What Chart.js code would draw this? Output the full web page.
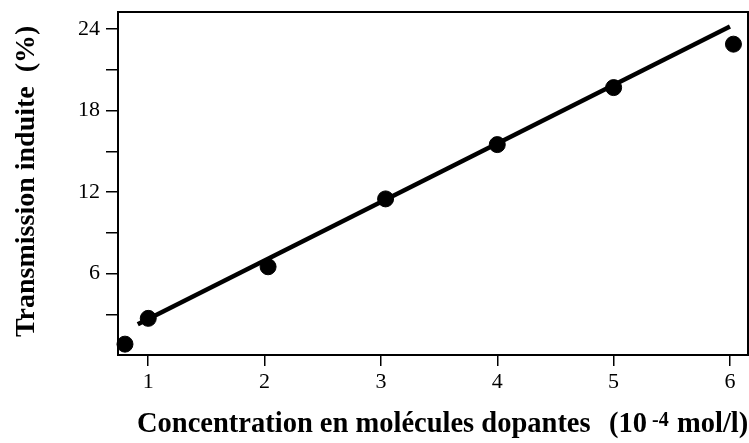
<!DOCTYPE html>
<html>
<head>
<meta charset="utf-8">
<script src="https://cdn.jsdelivr.net/npm/chart.js@4"></script>
<style>
  html, body { margin: 0; padding: 0; background: #fff; }
  #wrap { width: 749px; height: 443px; }
</style>
</head>
<body>
<div id="wrap"><canvas id="myChart" width="749" height="443"></canvas></div>
<script>
// valeurs
const concentration = [0.80, 1.00, 2.03, 3.04, 4.00, 5.00, 6.03];
const transmission = [0.8, 2.7, 6.5, 11.5, 15.5, 19.7, 22.9];
// droite d'ajustement (extrémités)
const fitX = [0.91, 6.00];
const fitY = [2.26, 24.2];
const xTicks = [1, 2, 3, 4, 5, 6];
const yTicks = [3, 6, 9, 12, 15, 18, 21, 24];
const yLabels = ['6', '12', '18', '24'];

const serif = '"Liberation Serif", "Times New Roman", serif';

// cadre + titres des axes (avec l'exposant -4)
const frameAndTitles = {
  id: 'frameAndTitles',
  afterDraw(chart) {
    const { ctx, chartArea: a } = chart;
    ctx.save();
    ctx.strokeStyle = '#000';
    ctx.lineWidth = 2;
    ctx.strokeRect(a.left, a.top, a.right - a.left, a.bottom - a.top);

    ctx.fillStyle = '#000';
    ctx.textBaseline = 'alphabetic';
    ctx.textAlign = 'left';

    // titre x
    const base = 432;
    ctx.font = 'bold 28.5px ' + serif;
    ctx.fillText('Concentration en molécules dopantes', 137, base);
    ctx.fillText('(10', 609, base);
    ctx.fillText('mol/l)', 677, base);
    ctx.font = 'bold 20px ' + serif;
    ctx.fillText('-4', 652, base - 6);

    // titre y
    ctx.translate(34, 337);
    ctx.rotate(-Math.PI / 2);
    ctx.font = 'bold 28px ' + serif;
    ctx.fillText('Transmission induite  (%)', 0, 0);
    ctx.restore();
  }
};

const points = concentration.map((c, i) => ({ x: c, y: transmission[i] }));
const fit = fitX.map((c, i) => ({ x: c, y: fitY[i] }));

new Chart(document.getElementById('myChart'), {
  type: 'scatter',
  data: {
    datasets: [
      {
        label: 'ajustement',
        data: fit,
        showLine: true,
        borderColor: '#000',
        borderWidth: 4.5,
        pointRadius: 0,
        clip: false
      },
      {
        label: 'mesures',
        data: points,
        backgroundColor: '#000',
        borderColor: '#000',
        pointRadius: 8,
        pointHoverRadius: 8,
        clip: false
      }
    ]
  },
  options: {
    responsive: false,
    animation: false,
    layout: { autoPadding: false, padding: { left: 0, right: 1, top: 12, bottom: 0 } },
    plugins: {
      legend: { display: false },
      tooltip: { enabled: false }
    },
    scales: {
      x: {
        type: 'linear',
        min: 0.74,
        max: 6.155,
        afterFit: s => { s.height = 88; s.paddingLeft = 0; s.paddingRight = 0; },
        afterBuildTicks: s => { s.ticks = xTicks.map(v => ({ value: v })); },
        border: { display: true, color: '#000', width: 2 },
        grid: { drawOnChartArea: false, drawTicks: true, tickLength: 11, color: '#000', lineWidth: 1.5 },
        ticks: {
          color: '#000',
          font: { family: serif, size: 22 },
          padding: 3,
          maxRotation: 0,
          callback: v => String(v)
        }
      },
      y: {
        type: 'linear',
        min: 0,
        max: 25.27,
        afterFit: s => { s.width = 118; s.paddingTop = 0; s.paddingBottom = 0; },
        afterBuildTicks: s => { s.ticks = yTicks.map(v => ({ value: v })); },
        border: { display: true, color: '#000', width: 2 },
        grid: { drawOnChartArea: false, drawTicks: true, tickLength: 12, color: '#000', lineWidth: 1.5 },
        ticks: {
          color: '#000',
          font: { family: serif, size: 22 },
          padding: 6,
          callback: v => (yLabels.includes(String(v)) ? String(v) : '')
        }
      }
    }
  },
  plugins: [frameAndTitles]
});
</script>
</body>
</html>
